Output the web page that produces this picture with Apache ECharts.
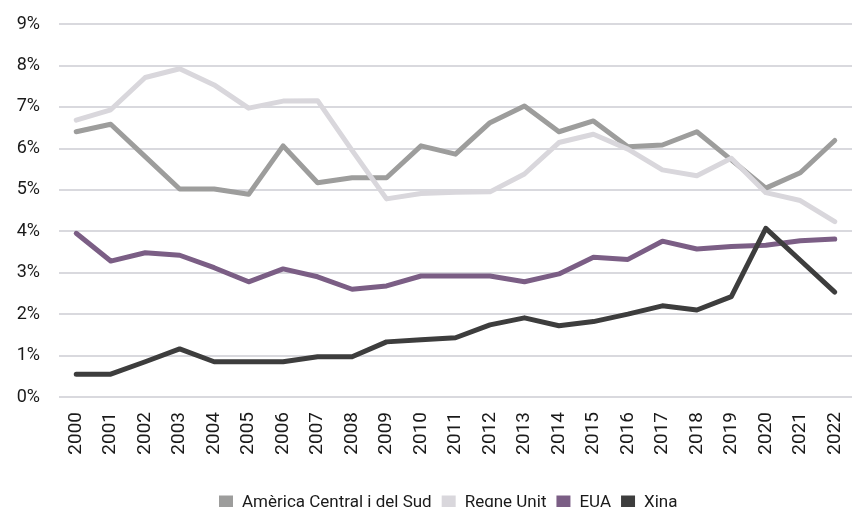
<!DOCTYPE html>
<html>
<head>
<meta charset="utf-8">
<script src="https://cdn.jsdelivr.net/npm/echarts@6/dist/echarts.min.js"></script>
<style>
html, body { margin: 0; padding: 0; background: #fff; }
#main { width: 852px; height: 507px; }
</style>
</head>
<body>
<div id="main"></div>
<script>
var years = ['2000','2001','2002','2003','2004','2005','2006','2007','2008','2009','2010','2011',
             '2012','2013','2014','2015','2016','2017','2018','2019','2020','2021','2022'];
var america = [6.40,6.58,5.80,5.02,5.02,4.89,6.06,5.17,5.29,5.29,6.06,5.86,6.62,7.02,6.40,6.66,6.04,6.08,6.40,5.72,5.04,5.41,6.19];
var regneUnit = [6.68,6.93,7.71,7.92,7.53,6.97,7.14,7.15,5.95,4.78,4.91,4.94,4.95,5.38,6.14,6.34,5.98,5.48,5.34,5.76,4.93,4.74,4.23];
var eua = [3.95,3.28,3.48,3.42,3.12,2.78,3.09,2.90,2.60,2.68,2.92,2.92,2.92,2.78,2.97,3.37,3.32,3.76,3.57,3.63,3.66,3.77,3.81];
var xina = [0.55,0.55,0.85,1.16,0.85,0.85,0.85,0.97,0.97,1.33,1.38,1.43,1.74,1.91,1.72,1.82,2.00,2.20,2.10,2.42,4.07,3.30,2.53];

var myChart = echarts.init(document.getElementById('main'));

function line(name, data, color) {
    return {
        name: name,
        type: 'line',
        data: data,
        symbol: 'none',
        lineStyle: { color: color, width: 5, cap: 'round', join: 'round' },
        itemStyle: { color: color }
    };
}

option = {
    animation: false,
    textStyle: { fontFamily: 'Roboto' },
    grid: {
        left: 59,
        right: -5,
        top: 24,
        bottom: 110
    },
    legend: {
        left: 214,
        top: 489,
        itemWidth: 14,
        itemHeight: 14,
        itemGap: 10,
        icon: 'rect',
        lineStyle: { width: 0, opacity: 0 },
        textStyle: { fontSize: 17, color: '#1a1a1a', fontFamily: 'Roboto', padding: [0, 0, 0, 4] },
        data: ['Amèrica Central i del Sud', 'Regne Unit', 'EUA', 'Xina']
    },
    xAxis: {
        type: 'category',
        boundaryGap: true,
        data: years,
        axisLine: { show: false },
        axisTick: { show: false },
        axisLabel: {
            rotate: 90,
            margin: 15,
            fontSize: 19,
            color: '#1a1a1a',
            interval: 0
        }
    },
    yAxis: {
        type: 'value',
        min: 0,
        max: 9,
        interval: 1,
        axisLine: { show: false },
        axisTick: { show: false },
        axisLabel: {
            formatter: '{value}%',
            fontSize: 18,
            color: '#1a1a1a',
            margin: 19
        },
        splitLine: { lineStyle: { color: '#d9d9de', width: 2 } }
    },
    series: [
        line('Amèrica Central i del Sud', america, '#9d9d9c'),
        line('Regne Unit', regneUnit, '#d9d7dc'),
        line('EUA', eua, '#7b5e85'),
        line('Xina', xina, '#3d3d3d')
    ]
};
myChart.setOption(option);
</script>
</body>
</html>
